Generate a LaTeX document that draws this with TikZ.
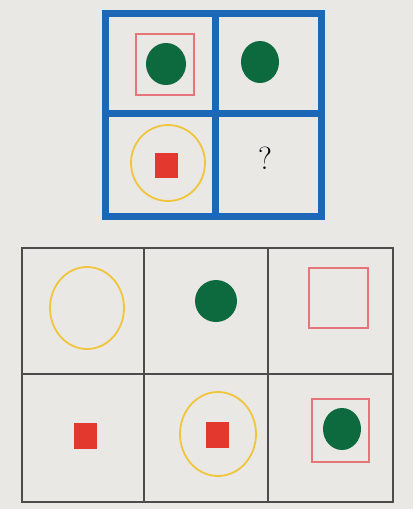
\documentclass[tikz,border=0pt]{standalone}
\usepackage{tikz}
\usetikzlibrary{shapes.geometric}
\definecolor{paper}{HTML}{E9E8E5}
\definecolor{boardblue}{HTML}{1C68B6}
\definecolor{leafgreen}{HTML}{0D6A3E}
\definecolor{chipred}{HTML}{E2382E}
\definecolor{pinkred}{HTML}{E67478}
\definecolor{sunyellow}{HTML}{F0C53C}
\begin{document}
\begin{tikzpicture}[
        x=1pt,
        y=-1pt,
        dot/.style={
            ellipse,
            fill=leafgreen,
            inner sep=0pt
        },
        ring/.style={
            ellipse,
            draw=sunyellow,
            line width=1.8pt,
            inner sep=0pt
        },
        frame/.style={
            rectangle,
            draw=pinkred,
            line width=1.1pt,
            inner sep=0pt
        },
        chip/.style={
            rectangle,
            fill=chipred,
            inner sep=0pt,
            minimum width=23pt,
            minimum height=25pt
        },
        bluegrid/.style={draw=boardblue, line width=7pt},
        thingrid/.style={draw=black!70, line width=1.1pt}
    ]
        \fill[paper] (0,0) rectangle (413,509);
        \useasboundingbox (0,0) rectangle (413,509);

        \draw[bluegrid] (105.5,13.5) rectangle (321.5,216.5);
        \draw[bluegrid] (215,13.5) -- (215,216.5);
        \draw[bluegrid] (105.5,113.5) -- (321.5,113.5);

        \node[frame, minimum width=58pt, minimum height=61pt] (askFrame) at (165,64.5) {};
        \node[dot, minimum width=40pt, minimum height=42pt] (askDotA) at (166,64) {};
        \node[dot, minimum width=38pt, minimum height=42pt] (askDotB) at (260,62) {};
        \node[ring, minimum width=74pt, minimum height=76pt] (askRing) at (168,163) {};
        \node[chip] (askChip) at (166.5,165.5) {};
        \node[font=\fontsize{32}{32}\selectfont, inner sep=0pt] (query) at (265,158) {?};

        \draw[thingrid] (22,248) rectangle (393,502);
        \draw[thingrid] (144,248) -- (144,502);
        \draw[thingrid] (268,248) -- (268,502);
        \draw[thingrid] (22,374) -- (393,374);

        \node[ring, minimum width=74pt, minimum height=82pt] (optRingA) at (87,308) {};
        \node[dot, minimum width=42pt, minimum height=42pt] (optDotA) at (216,301) {};
        \node[frame, minimum width=59pt, minimum height=60pt] (optFrameA) at (338.5,298) {};
        \node[chip, minimum height=26pt] (optChipA) at (85.5,436) {};
        \node[ring, minimum width=76pt, minimum height=84pt] (optRingB) at (218,434) {};
        \node[chip, minimum height=26pt] (optChipB) at (217.5,435) {};
        \node[frame, minimum width=57pt, minimum height=63pt] (optFrameB) at (340.5,430.5) {};
        \node[dot, minimum width=38pt, minimum height=42pt] (optDotB) at (342,429) {};
    \end{tikzpicture}
\end{document}
